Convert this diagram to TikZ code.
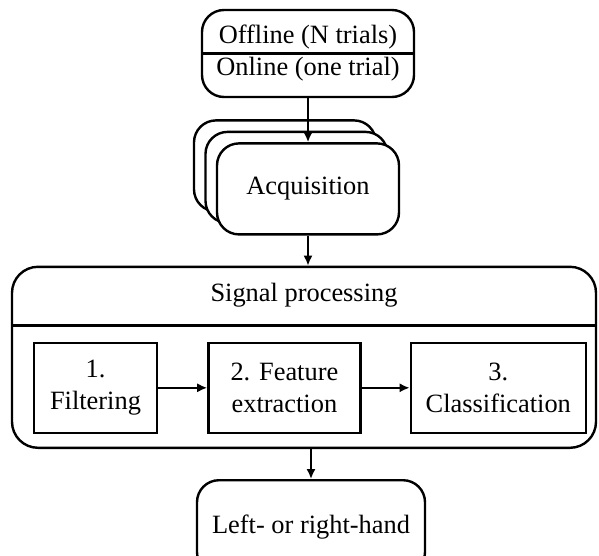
\documentclass[tikz,border=0pt]{standalone}
\usepackage{fontspec}
\setmainfont{Liberation Serif}
\usetikzlibrary{arrows.meta}
\usetikzlibrary{positioning}
\usetikzlibrary{shadows}

\begin{document}
\begin{tikzpicture}[
		font=\fontsize{13.2pt}{16pt}\selectfont,
		arrow/.style={very thick, -{Latex[length=5pt, width=4.6pt]}},
		stage/.style={draw, very thick, rounded corners=11pt, fill=white, align=center},
		stepbox/.style={draw, very thick, minimum height=45pt, align=center},
	]
	\useasboundingbox (0,0) rectangle (299.5pt,-278pt);

	\node[stage, minimum width=106pt, minimum height=43.5pt] (modes) at (154pt,-26.75pt) {Offline (N trials)\\Online (one trial)};
	\draw[very thick] (modes.west) -- (modes.east);
	\node[stage, minimum width=91pt, minimum height=45.5pt, below=22pt of modes,
		copy shadow={shadow xshift=-11.5pt, shadow yshift=11.5pt},
		copy shadow={shadow xshift=-5.75pt, shadow yshift=5.75pt}] (acquisition) {Acquisition};

	\node[stage, rounded corners=13pt, minimum width=292pt, minimum height=90.5pt, below=15pt of acquisition, xshift=-2pt] (processing) {};
	\node (processing title) at ([yshift=-15pt]processing.north) {Signal processing};
	\draw[very thick] ([yshift=-30pt]processing.north west) -- ([yshift=-30pt]processing.north east);
	\node[stepbox, minimum width=61.5pt, above right=7.5pt and 11pt of processing.south west] (filtering) {1.\\Filtering};
	\node[stepbox, minimum width=76pt, right=24.5pt of filtering] (features) {2. Feature\\extraction};
	\node[stepbox, minimum width=87.5pt, right=24pt of features] (classification) {3.\\Classification};

	\node[stage, minimum width=114pt, minimum height=47pt, below=15pt of processing, xshift=3.5pt] (result) {Left- or right-hand};

	\draw[arrow] (modes) -- (acquisition);
	\draw[arrow] (acquisition.south) -- (acquisition.south|-processing.north);
	\draw[arrow] (filtering) -- (features);
	\draw[arrow] (features) -- (classification);
	\draw[arrow] (processing.south-|result.north) -- (result.north);
\end{tikzpicture}
\end{document}
